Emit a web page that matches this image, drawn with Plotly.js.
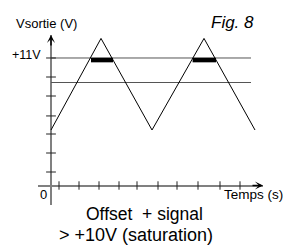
<!DOCTYPE html>
<html>
<head>
<meta charset="utf-8">
<script src="https://cdn.plot.ly/plotly-3.0.1.min.js"></script>
<style>html,body{margin:0;padding:0;background:#fff}#chart{width:286px;height:246px}</style>
</head>
<body>
<div id="chart"></div>
<script>
// data (time units along x, arbitrary voltage divisions along y)
const xTicks = [0.4, 1.4, 2.4, 3.4, 4.3, 5.35, 6.3, 7.35, 8.45, 9.45];
const yTicks = [0.71, 1.71, 2.71, 3.66, 4.71, 5.71, 6.71];
const waveT = [0, 2.5, 5.05, 7.65, 10.2];
const waveV = [2.92, 7.74, 2.92, 7.74, 2.92];
const levelT = [0, 10];
const level11 = [6.71, 6.71];
const level10 = [5.42, 5.42];
const satT = [2.0, 3.1, null, 7.08, 8.25];
const satV = [6.6, 6.6, null, 6.6, 6.6];
const labels = {
  yTitle: 'Vsortie (V)', xTitle: 'Temps (s)', yMark: '+11V', origin: '0',
  fig: 'Fig. 8', cap1: 'Offset\u00a0 + signal', cap2: '> +10V (saturation)'
};

const W = 286, H = 246;
const px = v => v / W, py = v => (H - v) / H;
const font = 'Liberation Sans, Arial, sans-serif';

const traces = [
  {x: levelT, y: level11, mode: 'lines', line: {color: '#555', width: 1}, hoverinfo: 'skip'},
  {x: levelT, y: level10, mode: 'lines', line: {color: '#555', width: 1}, hoverinfo: 'skip'},
  {x: waveT, y: waveV, mode: 'lines', line: {color: '#000', width: 1}, hoverinfo: 'skip'},
  {x: satT, y: satV, mode: 'lines', line: {color: '#000', width: 4.5}, connectgaps: false, hoverinfo: 'skip'},
  {x: yTicks.map(() => 0), y: yTicks, mode: 'markers', marker: {symbol: 'line-ew', size: 7, line: {color: '#222', width: 1}}, hoverinfo: 'skip'},
  {x: xTicks, y: xTicks.map(() => 0), mode: 'markers', marker: {symbol: 'line-ns', size: 6, line: {color: '#222', width: 1}}, hoverinfo: 'skip'}
];

const ann = (text, x, y, xa, size, extra) => Object.assign({
  text: text, xref: 'paper', yref: 'paper', x: px(x), y: py(y), xanchor: xa, yanchor: 'middle',
  showarrow: false, font: {family: font, size: size, color: '#000'}
}, extra || {});

const layout = {
  width: W, height: H,
  margin: {l: 0, r: 0, t: 0, b: 0, pad: 0},
  paper_bgcolor: '#fff', plot_bgcolor: '#fff',
  showlegend: false,
  xaxis: {domain: [38 / W, 263 / W], range: [-0.65, 10.6], showgrid: false, showticklabels: false, ticks: '',
    zeroline: true, zerolinecolor: '#808080', zerolinewidth: 2, showline: false, fixedrange: true},
  yaxis: {domain: [py(205), py(35)], range: [-1.026, 7.92], showgrid: false, showticklabels: false, ticks: '',
    zeroline: true, zerolinecolor: '#808080', zerolinewidth: 2, showline: false, fixedrange: true},
  annotations: [
    {x: 0, y: 7.92, xref: 'x', yref: 'y', text: '', showarrow: true, ax: 0, ay: 12, axref: 'pixel', ayref: 'pixel',
      arrowhead: 3, arrowsize: 0.9, arrowwidth: 1.5, arrowcolor: '#000', standoff: 0},
    {x: 10.6, y: 0, xref: 'x', yref: 'y', text: '', showarrow: true, ax: -12, ay: 0,
      arrowhead: 3, arrowsize: 0.9, arrowwidth: 1.5, arrowcolor: '#000', standoff: 0},
    ann(labels.yTitle, 14, 23, 'left', 13),
    ann(labels.yMark, 43, 55, 'right', 12.5),
    ann(labels.fig, 209, 22, 'left', 17, {font: {family: font, size: 17, color: '#000', style: 'italic'}}),
    ann(labels.origin, 43.5, 194, 'center', 13),
    ann(labels.xTitle, 222, 194, 'left', 13.5),
    ann(labels.cap1, 144, 214, 'center', 17.5),
    ann(labels.cap2, 136, 235, 'center', 18)
  ]
};

Plotly.newPlot('chart', traces, layout, {displayModeBar: false, staticPlot: true});
</script>
</body>
</html>
